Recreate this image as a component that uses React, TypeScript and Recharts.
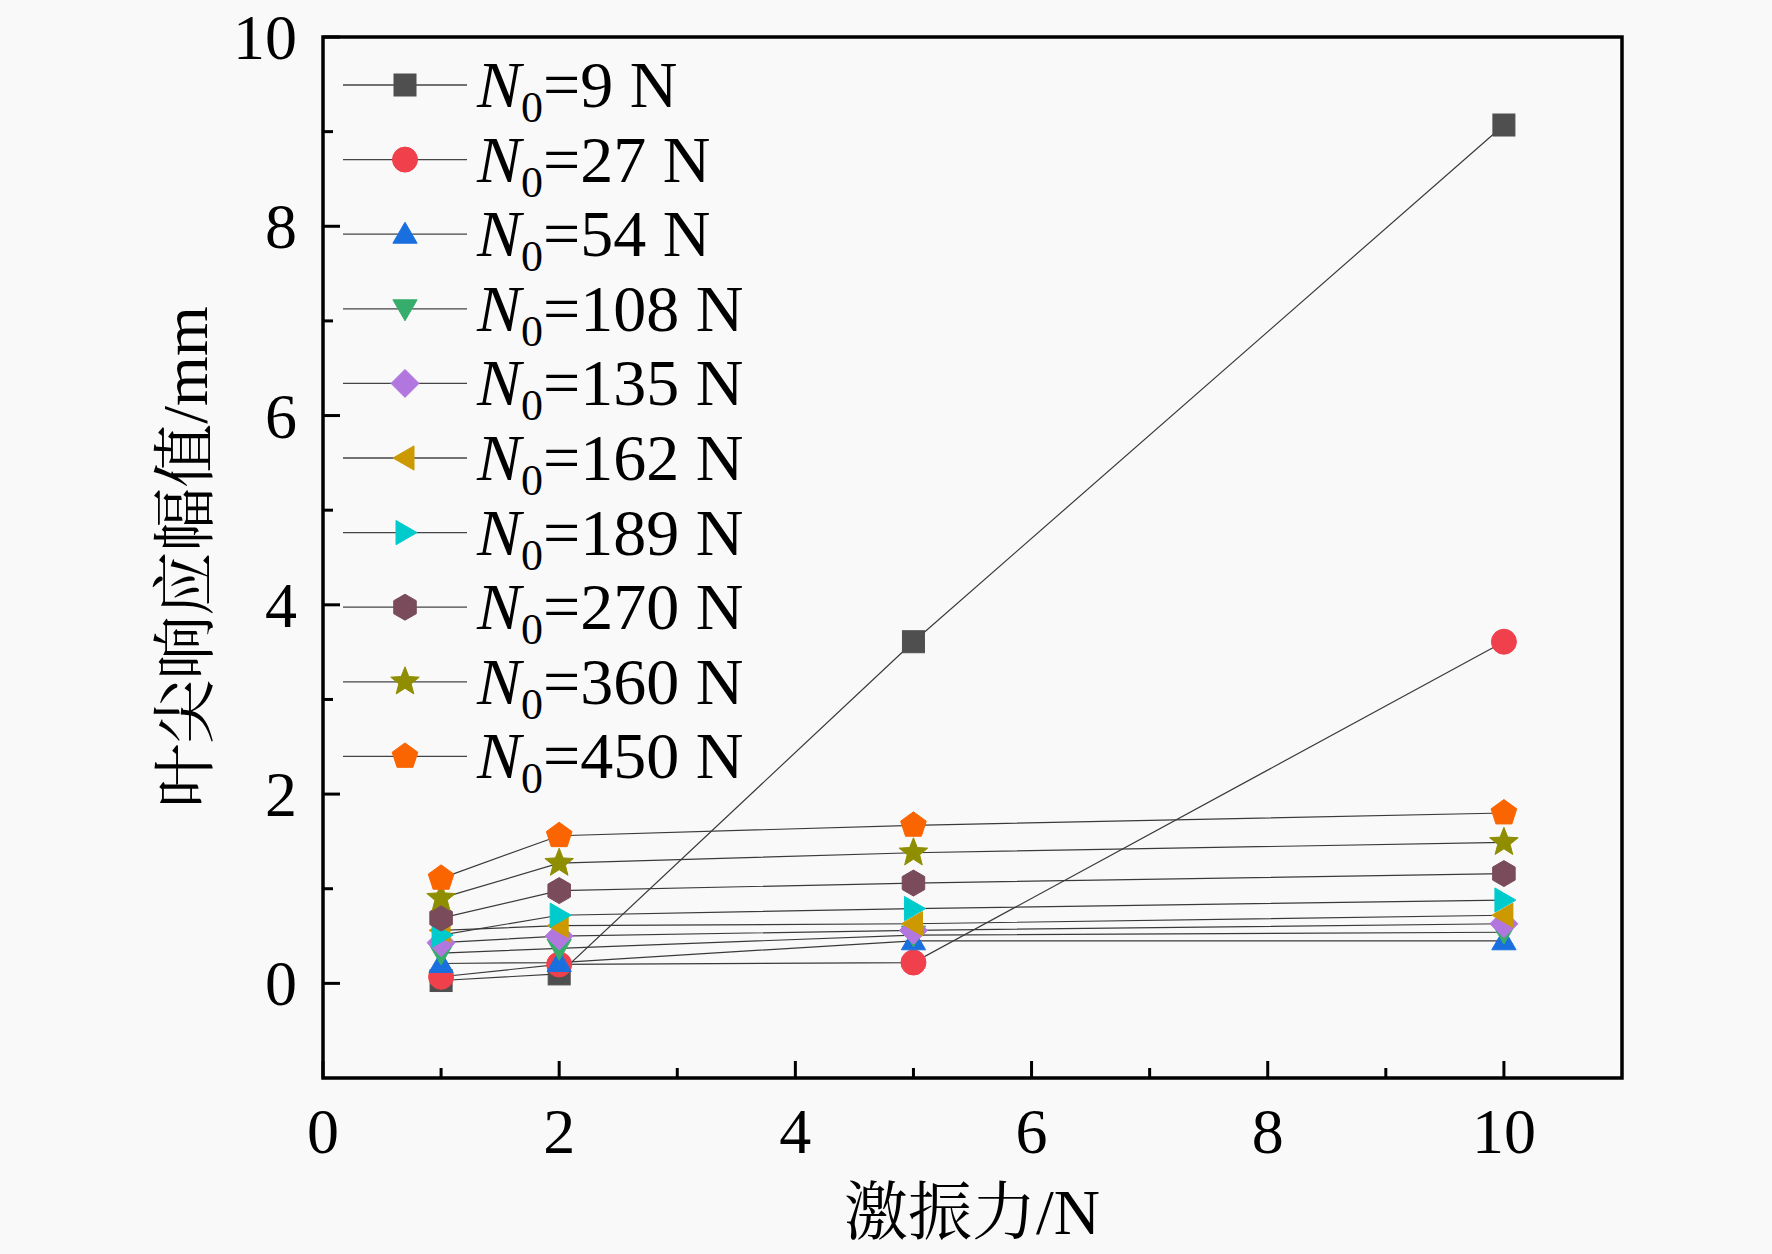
import React from 'react';
import { LineChart, Line, XAxis, YAxis, ReferenceArea, Legend, Label } from 'recharts';

// excitation force (N)
const forces = [1, 2, 5, 10];

// preload N0 for each series
const loads = ['9', '27', '54', '108', '135', '162', '189', '270', '360', '450'];

// tip response amplitude (mm)
const amp9 = [0.03, 0.1, 3.61, 9.07];
const amp27 = [0.07, 0.2, 0.22, 3.61];
const amp54 = [0.21, 0.22, 0.45, 0.45];
const amp108 = [0.32, 0.37, 0.51, 0.54];
const amp135 = [0.43, 0.5, 0.56, 0.63];
const amp162 = [0.56, 0.61, 0.63, 0.72];
const amp189 = [0.51, 0.72, 0.79, 0.88];
const amp270 = [0.69, 0.98, 1.06, 1.16];
const amp360 = [0.9, 1.27, 1.38, 1.49];
const amp450 = [1.11, 1.56, 1.67, 1.8];

const seriesValues = [amp9, amp27, amp54, amp108, amp135, amp162, amp189, amp270, amp360, amp450];

const colors = ['#4f4f4f', '#f0404c', '#1a6fdf', '#37ad6b', '#b177de', '#cc9900', '#00cbcc', '#7a4b5a', '#8e8e00', '#fb6501'];
const shapes = ['square', 'circle', 'up', 'down', 'diamond', 'left', 'right', 'hexagon', 'star', 'pentagon'];

const xTicks = [0, 1, 2, 3, 4, 5, 6, 7, 8, 9, 10];
const yTicks = [0, 1, 2, 3, 4, 5, 6, 7, 8, 9, 10];

const data = forces.map((f, i) => {
  const row: Record<string, number> = { force: f };
  loads.forEach((l, j) => {
    row['n' + l] = seriesValues[j][i];
  });
  return row;
});

const FONT = "'Liberation Serif', 'Times New Roman', 'Noto Serif CJK SC', 'Noto Sans CJK SC', serif";

const poly = (cx: number, cy: number, r: number, n: number, start: number, inner?: number) => {
  const pts: string[] = [];
  for (let k = 0; k < n; k++) {
    const a = ((start + (k * 360) / n) * Math.PI) / 180;
    const rr = inner && k % 2 === 1 ? inner : r;
    pts.push(`${cx + rr * Math.cos(a)},${cy + rr * Math.sin(a)}`);
  }
  return pts.join(' ');
};

const Marker = ({ shape, cx, cy, color }: { shape: string; cx: number; cy: number; color: string }) => {
  const common = { fill: color, stroke: color, strokeWidth: 1 };
  switch (shape) {
    case 'square':
      return <rect x={cx - 11} y={cy - 11} width={22} height={22} {...common} />;
    case 'circle':
      return <circle cx={cx} cy={cy} r={12.5} {...common} />;
    case 'up':
      return <polygon points={poly(cx, cy + 2, 14, 3, -90)} {...common} />;
    case 'down':
      return <polygon points={poly(cx, cy - 2, 14, 3, 90)} {...common} />;
    case 'left':
      return <polygon points={poly(cx + 2, cy, 14, 3, 180)} {...common} />;
    case 'right':
      return <polygon points={poly(cx - 2, cy, 14, 3, 0)} {...common} />;
    case 'diamond':
      return <polygon points={poly(cx, cy, 14, 4, -90)} {...common} />;
    case 'hexagon':
      return <polygon points={poly(cx, cy, 13, 6, -90)} {...common} />;
    case 'star':
      return <polygon points={poly(cx, cy, 15, 10, -90, 6.5)} {...common} />;
    default:
      return <polygon points={poly(cx, cy, 13.5, 5, -90)} {...common} />;
  }
};

const XTick = (props: any) => {
  const { x, y, payload } = props;
  const major = payload.value % 2 === 0;
  return (
    <g>
      <line x1={x} x2={x} y1={y} y2={y - (major ? 17 : 10)} stroke="#000" strokeWidth={3} />
      {major && (
        <text x={x} y={y + 75} textAnchor="middle" fontFamily={FONT} fontSize={64} fill="#000">
          {payload.value}
        </text>
      )}
    </g>
  );
};

const YTick = (props: any) => {
  const { x, y, payload } = props;
  const major = payload.value % 2 === 0;
  return (
    <g>
      <line x1={x} x2={x + (major ? 17 : 10)} y1={y} y2={y} stroke="#000" strokeWidth={3} />
      {major && (
        <text x={x - 26} y={y + 22} textAnchor="end" fontFamily={FONT} fontSize={64} fill="#000">
          {payload.value}
        </text>
      )}
    </g>
  );
};

const renderLegend = (props: any) => {
  const payload = [...(props.payload || [])].sort(
    (a: any, b: any) => loads.indexOf(String(a.dataKey).slice(1)) - loads.indexOf(String(b.dataKey).slice(1))
  );
  return (
    <svg width={420} height={760} style={{ overflow: 'visible' }}>
      {payload.map((entry: any, i: number) => {
        const idx = loads.indexOf(String(entry.dataKey).slice(1));
        const cy = 45 + i * 74.6;
        return (
          <g key={String(entry.dataKey)}>
            <line x1={13} x2={137} y1={cy} y2={cy} stroke="#444" strokeWidth={1.3} />
            <Marker shape={shapes[idx]} cx={75} cy={cy} color={colors[idx]} />
            <text x={147} y={cy + 22} fontFamily={FONT} fontSize={66} fill="#000">
              <tspan fontStyle="italic">N</tspan>
              <tspan fontSize={44} dy={15}>0</tspan>
              <tspan dy={-15}>{`=${loads[idx]} N`}</tspan>
            </text>
          </g>
        );
      })}
    </svg>
  );
};

const XTitle = () => (
  <text x={972} y={1234} textAnchor="middle" fontFamily={FONT} fontSize={64} fill="#000">
    激振力/N
  </text>
);

const YTitle = () => (
  <text
    transform="translate(184,557) rotate(-90)"
    textAnchor="middle"
    dy="0.36em"
    fontFamily={FONT}
    fontSize={64}
    fill="#000"
  >
    叶尖响应幅值/mm
  </text>
);

const App = () => {
  return (
    <div style={{ position: 'absolute', left: 0, top: 0, width: 1772, height: 1254, background: '#f9f9f9' }}>
      <LineChart width={1772} height={1254} data={data} margin={{ top: 37, right: 150, bottom: 0, left: 0 }}>
        <XAxis
          dataKey="force"
          type="number"
          domain={[0, 11]}
          ticks={xTicks}
          interval={0}
          height={176}
          tickSize={0}
          tickMargin={0}
          axisLine={false}
          tickLine={false}
          tick={XTick}
        >
          <Label content={XTitle} />
        </XAxis>
        <YAxis
          type="number"
          domain={[-1, 10]}
          ticks={yTicks}
          interval={0}
          width={323}
          tickSize={0}
          tickMargin={0}
          axisLine={false}
          tickLine={false}
          tick={YTick}
        >
          <Label content={YTitle} />
        </YAxis>
        <ReferenceArea x1={0} x2={11} y1={-1} y2={10} fill="none" stroke="#000" strokeWidth={3.5} />
        <Legend
          layout="vertical"
          align="center"
          verticalAlign="middle"
          content={renderLegend}
          wrapperStyle={{ position: 'absolute', left: 330, top: 40, width: 420, height: 760 }}
        />
        {loads.map((l, j) => (
          <Line
            key={l}
            dataKey={'n' + l}
            name={`N0=${l} N`}
            stroke="#3a3a3a"
            strokeWidth={1.2}
            isAnimationActive={false}
            activeDot={false}
            dot={(p: any) => (
              <Marker key={`${l}-${p.index}`} shape={shapes[j]} cx={p.cx} cy={p.cy} color={colors[j]} />
            )}
          />
        ))}
      </LineChart>
    </div>
  );
};

export default App;
